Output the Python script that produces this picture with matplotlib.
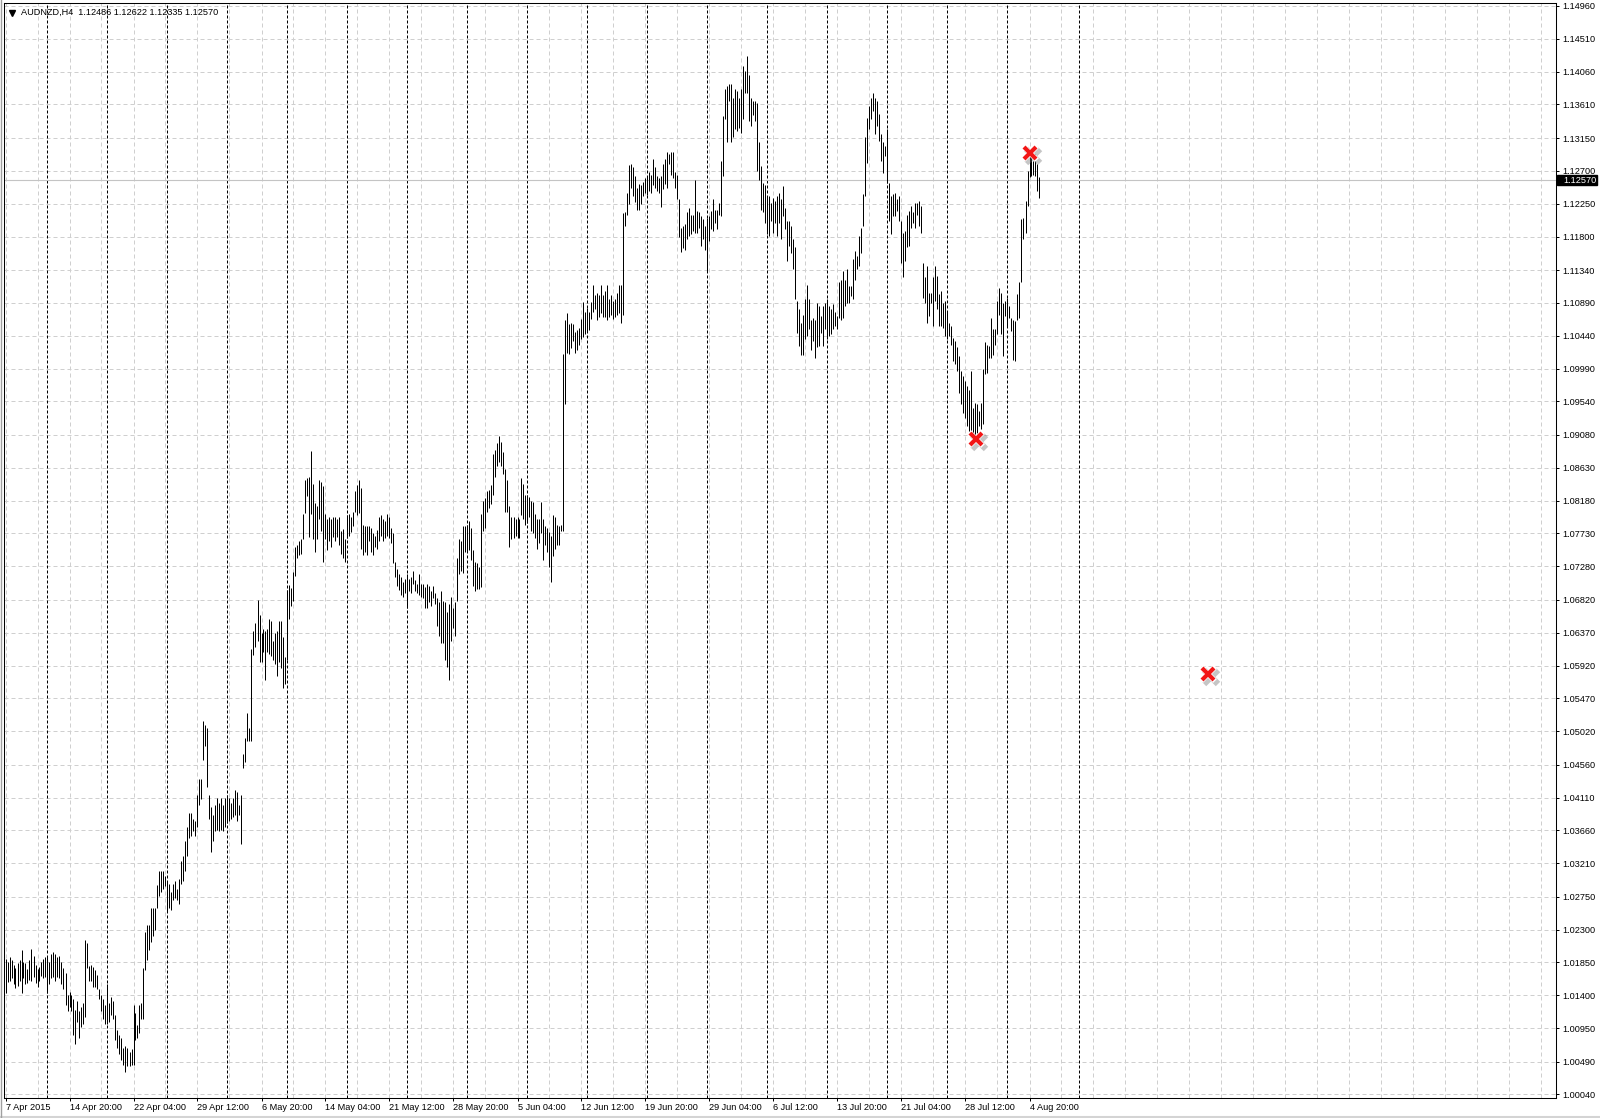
import matplotlib
matplotlib.use("Agg")
import matplotlib.pyplot as plt
import matplotlib.transforms as mtransforms
from matplotlib.lines import Line2D
from matplotlib.patches import Rectangle

plt.rcParams['font.family'] = ['Liberation Sans', 'DejaVu Sans']

# ---------------- data ----------------
symbol = "AUDNZD,H4"
last_ohlc = ["1.12486", "1.12622", "1.12335", "1.12570"]
current_price = 1.12570

highs = [
    1.0190, 1.0186, 1.0192, 1.0189, 1.0182, 1.0178, 1.0184, 1.0188, 1.0202, 1.0186,
    1.0184, 1.0176, 1.0188, 1.0203, 1.0194, 1.0182, 1.0176, 1.0179, 1.0186, 1.0190,
    1.0193, 1.0192, 1.0186, 1.0196, 1.0199, 1.0196, 1.0192, 1.0194, 1.0186, 1.0178,
    1.0171, 1.0141, 1.0145, 1.0141, 1.0135, 1.0120, 1.0132, 1.0118, 1.0124, 1.0130,
    1.0216, 1.0212, 1.0180, 1.0182, 1.0179, 1.0174, 1.0168, 1.0149, 1.0141, 1.0135,
    1.0127, 1.0155, 1.0130, 1.0138, 1.0132, 1.0113, 1.0093, 1.0085, 1.0082, 1.0068,
    1.0071, 1.0068, 1.0062, 1.0066, 1.0127, 1.0116, 1.0099, 1.0127, 1.0130, 1.0177,
    1.0227, 1.0236, 1.0236, 1.0259, 1.0259, 1.0259, 1.0291, 1.0310, 1.0310, 1.0310,
    1.0304, 1.0296, 1.0293, 1.0282, 1.0293, 1.0296, 1.0285, 1.0299, 1.0324, 1.0331,
    1.0351, 1.0370, 1.0390, 1.0390, 1.0381, 1.0379, 1.0415, 1.0437, 1.0437, 1.0516,
    1.0510, 1.0507, 1.0415, 1.0398, 1.0387, 1.0401, 1.0410, 1.0404, 1.0410, 1.0401,
    1.0410, 1.0415, 1.0410, 1.0404, 1.0410, 1.0421, 1.0419, 1.0401, 1.0415, 1.0471,
    1.0493, 1.0527, 1.0507, 1.0614, 1.0639, 1.0650, 1.0682, 1.0661, 1.0636, 1.0642,
    1.0639, 1.0642, 1.0656, 1.0653, 1.0625, 1.0636, 1.0639, 1.0653, 1.0653, 1.0631,
    1.0603, 1.0695, 1.0703, 1.0698, 1.0720, 1.0754, 1.0757, 1.0762, 1.0765, 1.0799,
    1.0846, 1.0849, 1.0851, 1.0886, 1.0841, 1.0815, 1.0810, 1.0846, 1.0843, 1.0838,
    1.0799, 1.0793, 1.0796, 1.0793, 1.0796, 1.0796, 1.0793, 1.0796, 1.0776, 1.0779,
    1.0765, 1.0798, 1.0800, 1.0795, 1.0803, 1.0831, 1.0839, 1.0846, 1.0836, 1.0785,
    1.0783, 1.0783, 1.0783, 1.0780, 1.0773, 1.0770, 1.0778, 1.0795, 1.0798, 1.0793,
    1.0790, 1.0800, 1.0795, 1.0780, 1.0773, 1.0734, 1.0724, 1.0717, 1.0714, 1.0706,
    1.0711, 1.0717, 1.0711, 1.0714, 1.0721, 1.0709, 1.0704, 1.0717, 1.0704, 1.0704,
    1.0699, 1.0704, 1.0701, 1.0694, 1.0701, 1.0691, 1.0684, 1.0679, 1.0694, 1.0681,
    1.0679, 1.0666, 1.0676, 1.0686, 1.0671, 1.0679, 1.0739, 1.0765, 1.0762, 1.0783,
    1.0783, 1.0785, 1.0790, 1.0780, 1.0750, 1.0734, 1.0732, 1.0727, 1.0800, 1.0818,
    1.0821, 1.0831, 1.0833, 1.0839, 1.0882, 1.0887, 1.0897, 1.0907, 1.0899, 1.0884,
    1.0861, 1.0846, 1.0810, 1.0795, 1.0795, 1.0793, 1.0795, 1.0793, 1.0849, 1.0841,
    1.0826, 1.0826, 1.0823, 1.0818, 1.0816, 1.0800, 1.0793, 1.0793, 1.0816, 1.0793,
    1.0783, 1.0780, 1.0775, 1.0770, 1.0798, 1.0795, 1.0785, 1.0783, 1.0785, 1.1019,
    1.1065, 1.1075, 1.1060, 1.1062, 1.1060, 1.1049, 1.1052, 1.1055, 1.1067, 1.1090,
    1.1077, 1.1082, 1.1077, 1.1090, 1.1113, 1.1100, 1.1103, 1.1100, 1.1113, 1.1100,
    1.1105, 1.1113, 1.1095, 1.1100, 1.1092, 1.1095, 1.1103, 1.1113, 1.1113, 1.1212,
    1.1214, 1.1240, 1.1278, 1.1280, 1.1275, 1.1263, 1.1247, 1.1252, 1.1250, 1.1255,
    1.1260, 1.1263, 1.1268, 1.1265, 1.1286, 1.1275, 1.1263, 1.1260, 1.1263, 1.1280,
    1.1286, 1.1296, 1.1293, 1.1296, 1.1296, 1.1268, 1.1265, 1.1232, 1.1192, 1.1194,
    1.1197, 1.1214, 1.1219, 1.1210, 1.1210, 1.1258, 1.1215, 1.1213, 1.1208, 1.1204,
    1.1194, 1.1206, 1.1208, 1.1215, 1.1231, 1.1217, 1.1217, 1.1226, 1.1284, 1.1345,
    1.1382, 1.1386, 1.1389, 1.1389, 1.1370, 1.1382, 1.1380, 1.1370, 1.1382, 1.1414,
    1.1407, 1.1427, 1.1402, 1.1370, 1.1366, 1.1366, 1.1363, 1.1309, 1.1277, 1.1254,
    1.1251, 1.1235, 1.1235, 1.1226, 1.1233, 1.1229, 1.1235, 1.1240, 1.1231, 1.1249,
    1.1219, 1.1201, 1.1201, 1.1194, 1.1176, 1.1165, 1.1092, 1.1080, 1.1062, 1.1073,
    1.1094, 1.1114, 1.1094, 1.1066, 1.1069, 1.1066, 1.1089, 1.1085, 1.1071, 1.1085,
    1.1089, 1.1094, 1.1085, 1.1080, 1.1087, 1.1076, 1.1071, 1.1117, 1.1121, 1.1133,
    1.1121, 1.1135, 1.1112, 1.1112, 1.1149, 1.1160, 1.1153, 1.1181, 1.1192, 1.1238,
    1.1316, 1.1343, 1.1359, 1.1370, 1.1377, 1.1370, 1.1366, 1.1348, 1.1320, 1.1309,
    1.1304, 1.1327, 1.1254, 1.1235, 1.1238, 1.1240, 1.1231, 1.1235, 1.1201, 1.1185,
    1.1188, 1.1210, 1.1215, 1.1222, 1.1213, 1.1226, 1.1226, 1.1229, 1.1222, 1.1144,
    1.1124, 1.1140, 1.1103, 1.1103, 1.1124, 1.1140, 1.1126, 1.1101, 1.1105, 1.1089,
    1.1092, 1.1076, 1.1062, 1.1057, 1.1041, 1.1037, 1.1028, 1.1016, 1.0996, 1.0989,
    1.0982, 1.0975, 1.0970, 1.0996, 1.0945, 1.0952, 1.0950, 1.0941, 1.0952, 1.0998,
    1.1035, 1.1032, 1.1030, 1.1069, 1.1053, 1.1053, 1.1092, 1.1110, 1.1103, 1.1089,
    1.1092, 1.1096, 1.1085, 1.1069, 1.1066, 1.1064, 1.1101, 1.1117, 1.1204, 1.1206,
    1.1229, 1.1270, 1.1293, 1.1302, 1.1284, 1.1293, 1.1279, 1.12622,
]

lows = [
    1.0143, 1.0158, 1.0160, 1.0163, 1.0155, 1.0150, 1.0153, 1.0160, 1.0143, 1.0163,
    1.0155, 1.0157, 1.0161, 1.0160, 1.0165, 1.0157, 1.0152, 1.0160, 1.0167, 1.0163,
    1.0165, 1.0143, 1.0155, 1.0163, 1.0165, 1.0160, 1.0165, 1.0163, 1.0155, 1.0149,
    1.0127, 1.0118, 1.0124, 1.0118, 1.0085, 1.0073, 1.0104, 1.0082, 1.0096, 1.0100,
    1.0110, 1.0177, 1.0160, 1.0160, 1.0152, 1.0152, 1.0149, 1.0135, 1.0118, 1.0107,
    1.0101, 1.0101, 1.0104, 1.0113, 1.0107, 1.0079, 1.0068, 1.0059, 1.0051, 1.0045,
    1.0035, 1.0043, 1.0043, 1.0045, 1.0045, 1.0079, 1.0082, 1.0088, 1.0107, 1.0107,
    1.0174, 1.0188, 1.0202, 1.0213, 1.0221, 1.0230, 1.0259, 1.0276, 1.0282, 1.0285,
    1.0290, 1.0254, 1.0260, 1.0257, 1.0271, 1.0274, 1.0271, 1.0265, 1.0293, 1.0296,
    1.0310, 1.0331, 1.0356, 1.0359, 1.0365, 1.0359, 1.0370, 1.0401, 1.0409, 1.0463,
    1.0482, 1.0426, 1.0381, 1.0337, 1.0351, 1.0365, 1.0367, 1.0365, 1.0367, 1.0365,
    1.0370, 1.0376, 1.0379, 1.0382, 1.0384, 1.0387, 1.0379, 1.0387, 1.0348, 1.0451,
    1.0460, 1.0488, 1.0488, 1.0488, 1.0606, 1.0617, 1.0625, 1.0597, 1.0597, 1.0611,
    1.0572, 1.0611, 1.0608, 1.0605, 1.0600, 1.0594, 1.0577, 1.0597, 1.0589, 1.0561,
    1.0566, 1.0600, 1.0656, 1.0673, 1.0681, 1.0715, 1.0740, 1.0743, 1.0745, 1.0765,
    1.0801, 1.0824, 1.0768, 1.0799, 1.0765, 1.0748, 1.0765, 1.0793, 1.0776, 1.0734,
    1.0765, 1.0751, 1.0762, 1.0754, 1.0768, 1.0762, 1.0768, 1.0757, 1.0745, 1.0740,
    1.0734, 1.0767, 1.0770, 1.0775, 1.0783, 1.0803, 1.0798, 1.0801, 1.0752, 1.0744,
    1.0747, 1.0744, 1.0762, 1.0747, 1.0744, 1.0755, 1.0752, 1.0762, 1.0770, 1.0762,
    1.0767, 1.0770, 1.0767, 1.0760, 1.0732, 1.0714, 1.0701, 1.0696, 1.0689, 1.0686,
    1.0691, 1.0671, 1.0694, 1.0691, 1.0704, 1.0694, 1.0691, 1.0689, 1.0686, 1.0684,
    1.0671, 1.0671, 1.0679, 1.0673, 1.0684, 1.0676, 1.0646, 1.0633, 1.0623, 1.0623,
    1.0600, 1.0590, 1.0572, 1.0626, 1.0643, 1.0633, 1.0681, 1.0717, 1.0722, 1.0719,
    1.0747, 1.0747, 1.0750, 1.0737, 1.0701, 1.0694, 1.0697, 1.0697, 1.0699, 1.0777,
    1.0780, 1.0803, 1.0808, 1.0813, 1.0826, 1.0851, 1.0866, 1.0871, 1.0866, 1.0854,
    1.0803, 1.0803, 1.0754, 1.0765, 1.0767, 1.0770, 1.0767, 1.0767, 1.0798, 1.0793,
    1.0785, 1.0788, 1.0795, 1.0777, 1.0773, 1.0767, 1.0752, 1.0760, 1.0773, 1.0737,
    1.0757, 1.0747, 1.0727, 1.0706, 1.0742, 1.0752, 1.0757, 1.0757, 1.0777, 1.0777,
    1.0950, 1.1021, 1.1019, 1.1027, 1.1037, 1.1021, 1.1024, 1.1032, 1.1039, 1.1042,
    1.1047, 1.1049, 1.1052, 1.1067, 1.1077, 1.1080, 1.1065, 1.1070, 1.1075, 1.1070,
    1.1070, 1.1065, 1.1070, 1.1072, 1.1067, 1.1070, 1.1072, 1.1075, 1.1062, 1.1072,
    1.1194, 1.1209, 1.1225, 1.1247, 1.1235, 1.1227, 1.1217, 1.1217, 1.1225, 1.1235,
    1.1240, 1.1237, 1.1242, 1.1240, 1.1250, 1.1247, 1.1242, 1.1240, 1.1220, 1.1245,
    1.1252, 1.1247, 1.1280, 1.1265, 1.1260, 1.1247, 1.1232, 1.1179, 1.1159, 1.1164,
    1.1161, 1.1176, 1.1181, 1.1183, 1.1187, 1.1185, 1.1185, 1.1192, 1.1167, 1.1176,
    1.1162, 1.1133, 1.1174, 1.1190, 1.1188, 1.1199, 1.1190, 1.1210, 1.1208, 1.1263,
    1.1341, 1.1309, 1.1366, 1.1309, 1.1316, 1.1327, 1.1325, 1.1329, 1.1322, 1.1341,
    1.1377, 1.1377, 1.1338, 1.1331, 1.1347, 1.1338, 1.1270, 1.1258, 1.1217, 1.1213,
    1.1199, 1.1183, 1.1181, 1.1201, 1.1185, 1.1199, 1.1181, 1.1199, 1.1176, 1.1208,
    1.1190, 1.1146, 1.1167, 1.1158, 1.1135, 1.1094, 1.1048, 1.1030, 1.1018, 1.1018,
    1.1040, 1.1044, 1.1053, 1.1025, 1.1037, 1.1014, 1.1028, 1.1030, 1.1048, 1.1030,
    1.1053, 1.1040, 1.1044, 1.1046, 1.1053, 1.1058, 1.1053, 1.1069, 1.1066, 1.1069,
    1.1085, 1.1089, 1.1089, 1.1098, 1.1094, 1.1121, 1.1135, 1.1140, 1.1158, 1.1194,
    1.1236, 1.1281, 1.1327, 1.1341, 1.1352, 1.1320, 1.1331, 1.1311, 1.1283, 1.1267,
    1.1290, 1.1254, 1.1201, 1.1183, 1.1208, 1.1208, 1.1215, 1.1201, 1.1144, 1.1124,
    1.1146, 1.1165, 1.1167, 1.1192, 1.1199, 1.1192, 1.1210, 1.1194, 1.1185, 1.1096,
    1.1089, 1.1062, 1.1071, 1.1089, 1.1057, 1.1092, 1.1080, 1.1057, 1.1057, 1.1055,
    1.1044, 1.1039, 1.1044, 1.1032, 1.1009, 1.1005, 1.0996, 1.0966, 1.0950, 1.0938,
    1.0931, 1.0920, 1.0909, 1.0913, 1.0911, 1.0906, 1.0911, 1.0920, 1.0916, 1.0923,
    1.0991, 1.0993, 1.1014, 1.1014, 1.1018, 1.1032, 1.1046, 1.1073, 1.1046, 1.1016,
    1.1071, 1.1057, 1.1069, 1.1050, 1.1011, 1.1009, 1.1066, 1.1069, 1.1117, 1.1176,
    1.1185, 1.1222, 1.1261, 1.1263, 1.1265, 1.1263, 1.1242, 1.12335,
]

price_ticks = [1.14960, 1.14510, 1.14060, 1.13610, 1.13150, 1.12700, 1.12250,
               1.11800, 1.11340, 1.10890, 1.10440, 1.09990, 1.09540, 1.09080,
               1.08630, 1.08180, 1.07730, 1.07280, 1.06820, 1.06370, 1.05920,
               1.05470, 1.05020, 1.04560, 1.04110, 1.03660, 1.03210, 1.02750,
               1.02300, 1.01850, 1.01400, 1.00950, 1.00490, 1.00040]

date_labels = ["7 Apr 2015", "14 Apr 20:00", "22 Apr 04:00", "29 Apr 12:00",
               "6 May 20:00", "14 May 04:00", "21 May 12:00", "28 May 20:00",
               "5 Jun 04:00", "12 Jun 12:00", "19 Jun 20:00", "29 Jun 04:00",
               "6 Jul 12:00", "13 Jul 20:00", "21 Jul 04:00", "28 Jul 12:00",
               "4 Aug 20:00"]
date_label_bars = [0, 32, 64, 96, 128, 160, 192, 224, 256, 288, 320, 352,
                   384, 416, 448, 480, 512]
separator_bars = [21, 51, 81, 111, 141, 171, 201, 231, 261, 291, 321, 351,
                  381, 411, 441, 471, 501, 537]
vgrid_bars = list(range(0, 776, 16))

marker_bars = [512.5, 485.3, 601.4]
marker_prices = [1.1294, 1.0902, 1.0581]

# ---------------- layout ----------------
W, H = 1600, 1118
fig = plt.figure(figsize=(W / 100, H / 100), dpi=100)
fig.patch.set_facecolor('white')
ax_l, ax_r, ax_t, ax_b = 4, 1556, 3, 1098
ax = fig.add_axes([ax_l / W, (H - ax_b) / H, (ax_r - ax_l) / W, (ax_b - ax_t) / H])
ax.set_facecolor('white')
ax.set_xlim((ax_l - 5.5) / 2, (ax_r - 5.5) / 2)
ax.set_ylim(0.99992, 1.15001)

for s in ax.spines.values():
    s.set_color('black')
    s.set_linewidth(0.75)

grid_kw = dict(color='#cfcfcf', lw=0.72, ls=(0, (4, 3)), zorder=0)
for p in price_ticks:
    ax.axhline(p, **grid_kw)
for b in vgrid_bars:
    ax.axvline(b, **grid_kw)

for b in separator_bars:
    ax.axvline(b, color='black', lw=0.72, ls=(0, (3, 2)), zorder=1)

ax.axhline(current_price, color='#c4c4c4', lw=0.8, zorder=1)

xs = list(range(len(highs)))
ax.vlines(xs, lows, highs, colors='black', linewidth=0.72, zorder=3,
          antialiased=True)

# markers with shadow
shadow_tr = mtransforms.offset_copy(ax.transData, fig=fig, x=3, y=-3, units='dots')
ax.plot(marker_bars, marker_prices, ls='none', marker='x', ms=10, mew=4.5,
        color='#707070', alpha=0.4, transform=shadow_tr, zorder=4)
ax.plot(marker_bars, marker_prices, ls='none', marker='x', ms=9.5, mew=4.0,
        color='white', zorder=5)
ax.plot(marker_bars, marker_prices, ls='none', marker='x', ms=9, mew=3.0,
        color='#f21616', zorder=6)

# axes ticks
ax.yaxis.tick_right()
ax.set_yticks(price_ticks)
ax.set_yticklabels([f"{p:.5f}" for p in price_ticks])
ax.tick_params(axis='y', length=2.4, width=0.72, pad=2.2, labelsize=6.6,
               colors='black')
ax.set_xticks(date_label_bars)
ax.set_xticklabels(date_labels)
ax.tick_params(axis='x', length=2.4, width=0.72, pad=1.5, labelsize=6.6,
               colors='black')
for lbl in ax.get_xticklabels():
    lbl.set_horizontalalignment('left')

# current price box
tr_box = mtransforms.blended_transform_factory(fig.transFigure, ax.transData)
box_h = 10 / 7295.6
ax.add_patch(Rectangle((1557 / W, current_price - box_h / 2), 40 / W, box_h,
                       transform=tr_box, facecolor='black', edgecolor='black',
                       clip_on=False, zorder=10))
ax.text(1563 / W, current_price, f"{current_price:.5f}", transform=tr_box,
        color='white', fontsize=6.6, ha='left', va='center', zorder=11,
        clip_on=False)

# header
fig.add_artist(Line2D([12 / W], [1 - 12.5 / H], marker='v', ms=3.8,
                      color='black', transform=fig.transFigure))
fig.text(21 / W, 1 - 12.5 / H, symbol + "  " + " ".join(last_ohlc),
         fontsize=6.6, ha='left', va='center', color='black')

# window frame lines
fig.add_artist(Line2D([0, 1], [1.5 / H, 1.5 / H], color='#d4d4d4', lw=1.5,
                      transform=fig.transFigure))
fig.add_artist(Line2D([0.6 / W, 0.6 / W], [0, 1], color='#a0a0a0', lw=1.0,
                      transform=fig.transFigure))

fig.savefig("out.png", dpi=100, facecolor='white')
